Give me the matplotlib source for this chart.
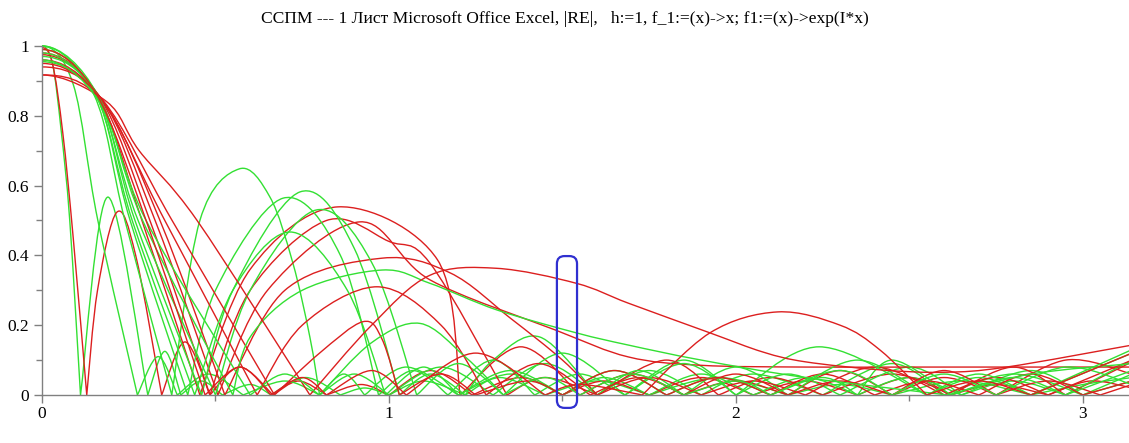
import numpy as np
import matplotlib.pyplot as plt
from matplotlib.path import Path
from matplotlib.patches import PathPatch, FancyBboxPatch

# pontos (x, |RE|): zeros, picos e alguns pontos intermediários
g1 = [(0, 1.0), (0.03, 0.95), (0.055, 0.76), (0.08, 0.5), (0.111, 0), (0.19, 0.567), (0.305, 0),
      (0.354, 0.125), (0.40, 0), (0.46, 0.04), (0.52, 0), (0.6, 0.03), (0.66, 0), (0.76, 0.05),
      (0.86, 0), (0.93, 0.02), (1.0, 0), (1.1, 0.04), (1.22, 0), (1.32, 0.05), (1.45, 0),
      (1.6, 0.04), (1.75, 0), (1.95, 0.05), (2.15, 0), (2.3, 0.03), (2.45, 0), (2.65, 0.04),
      (2.85, 0), (3.0, 0.03), (3.1416, 0.05)]
g2 = [(0, 1.0), (0.09, 0.89), (0.161, 0.5), (0.275, 0), (0.335, 0.11), (0.39, 0), (0.48, 0.06),
      (0.58, 0), (0.7, 0.04), (0.8, 0), (0.9, 0.06), (1.0, 0), (1.15, 0.08), (1.3, 0), (1.45, 0.09),
      (1.6, 0), (1.75, 0.07), (1.9, 0), (2.05, 0.06), (2.25, 0), (2.45, 0.09), (2.6, 0), (2.8, 0.06),
      (3.0, 0), (3.1416, 0.06)]
g3 = [(0, 1.0), (0.15, 0.86), (0.239, 0.5), (0.374, 0), (0.455, 0.5), (0.569, 0.648), (0.657, 0.567),
      (0.723, 0.378), (0.772, 0.166), (0.80, 0), (0.87, 0.06), (0.93, 0), (1.05, 0.08), (1.2, 0),
      (1.35, 0.06), (1.5, 0), (1.62, 0.05), (1.75, 0), (1.9, 0.06), (2.05, 0), (2.2, 0.05), (2.35, 0),
      (2.5, 0.05), (2.65, 0), (2.85, 0.07), (3.0, 0), (3.1416, 0.04)]
g4 = [(0, 0.97), (0.155, 0.86), (0.254, 0.5), (0.42, 0), (0.5, 0.3), (0.695, 0.564), (0.86, 0.4),
      (0.97, 0), (1.07, 0.07), (1.17, 0), (1.3, 0.1), (1.42, 0), (1.55, 0.06), (1.68, 0), (1.85, 0.1),
      (2.0, 0), (2.15, 0.06), (2.3, 0), (2.5, 0.08), (2.65, 0), (2.8, 0.04), (2.95, 0), (3.1416, 0.1)]
g5 = [(0, 1.0), (0.16, 0.86), (0.268, 0.5), (0.46, 0), (0.55, 0.3), (0.744, 0.582), (0.9, 0.42),
      (1.03, 0), (1.12, 0.06), (1.22, 0), (1.3, 0.1), (1.435, 0.166), (1.6, 0), (1.72, 0.07),
      (1.85, 0), (2.0, 0.08), (2.15, 0), (2.35, 0.1), (2.55, 0), (2.7, 0.05), (2.85, 0), (3.1416, 0.12)]
g6 = [(0, 0.955), (0.16, 0.85), (0.277, 0.5), (0.5, 0), (0.6, 0.3), (0.79, 0.53), (0.95, 0.38),
      (1.08, 0), (1.2, 0.09), (1.33, 0), (1.5, 0.12), (1.68, 0), (1.85, 0.09), (2.0, 0), (2.24, 0.138),
      (2.55, 0), (2.7, 0.06), (2.85, 0), (3.1416, 0.13)]
g7 = [(0, 0.99), (0.155, 0.86), (0.26, 0.5), (0.44, 0), (0.55, 0.3), (0.715, 0.467), (0.88, 0.3),
      (0.99, 0), (1.1, 0.08), (1.2, 0), (1.35, 0.07), (1.5, 0), (1.65, 0.07), (1.8, 0), (1.95, 0.05),
      (2.1, 0), (2.25, 0.05), (2.35, 0), (2.45, 0.1), (2.62, 0), (2.8, 0.05), (2.95, 0), (3.1416, 0.07)]
g8 = [(0, 0.98), (0.165, 0.85), (0.29, 0.5), (0.55, 0), (0.6, 0.166), (0.75, 0.3), (0.98, 0.358),
      (1.118, 0.32), (1.31, 0.244), (1.54, 0.178), (1.69, 0.143), (1.9, 0.1), (2.2, 0.05), (2.61, 0),
      (2.85, 0.06), (3.1416, 0.09)]
g9 = [(0, 0.96), (0.165, 0.84), (0.3, 0.5), (0.6, 0), (0.7, 0.06), (0.8, 0), (0.95, 0.15),
      (1.09, 0.205), (1.22, 0.109), (1.33, 0), (1.45, 0.05), (1.55, 0), (1.7, 0.06), (1.85, 0),
      (2.0, 0.04), (2.1, 0), (2.3, 0.07), (2.45, 0), (2.6, 0.06), (2.75, 0), (2.95, 0.08), (3.1416, 0.03)]

r1 = [(0, 0.995), (0.03, 0.95), (0.06, 0.75), (0.09, 0.45), (0.129, 0), (0.16, 0.3), (0.216, 0.524),
      (0.27, 0.4), (0.345, 0), (0.412, 0.152), (0.484, 0), (0.57, 0.08), (0.666, 0), (0.74, 0.04),
      (0.82, 0), (0.92, 0.03), (1.0, 0), (1.12, 0.07), (1.24, 0), (1.38, 0.05), (1.5, 0), (1.62, 0.04),
      (1.75, 0), (1.9, 0.05), (2.05, 0), (2.2, 0.04), (2.35, 0), (2.5, 0.05), (2.62, 0), (2.75, 0.03),
      (2.9, 0), (3.02, 0.04), (3.1416, 0.02)]
r2 = [(0, 0.98), (0.16, 0.86), (0.288, 0.5), (0.455, 0), (0.6, 0.36), (0.853, 0.539),
      (1.14, 0.387), (1.205, 0), (1.38, 0.138), (1.55, 0), (1.7, 0.06), (1.85, 0), (2.0, 0.04),
      (2.15, 0), (2.3, 0.07), (2.45, 0), (2.6, 0.05), (2.75, 0), (2.95, 0.1), (3.1416, 0.06)]
r3 = [(0, 0.975), (0.165, 0.855), (0.311, 0.5), (0.484, 0), (0.6, 0.3), (0.82, 0.50), (1.0, 0.44),
      (1.118, 0.378), (1.34, 0), (1.45, 0.05), (1.6, 0), (1.8, 0.1), (1.95, 0), (2.1, 0.05), (2.25, 0),
      (2.45, 0.06), (2.62, 0), (2.8, 0.08), (2.95, 0), (3.1416, 0.095)]
r4 = [(0, 0.94), (0.17, 0.85), (0.326, 0.5), (0.507, 0), (0.65, 0.3), (0.916, 0.496), (1.118, 0.33),
      (1.48, 0.186), (1.69, 0.109), (1.9, 0.085), (2.2, 0.08), (2.5, 0.08), (2.8, 0.08), (3.1416, 0.08)]
r5 = [(0, 0.917), (0.175, 0.84), (0.34, 0.5), (0.527, 0), (0.7, 0.3), (0.98, 0.392), (1.176, 0.35),
      (1.35, 0.22), (1.5, 0.1), (1.6, 0), (1.75, 0.05), (1.9, 0), (2.05, 0.04), (2.2, 0), (2.4, 0.08),
      (2.6, 0), (2.75, 0.05), (2.9, 0), (3.1416, 0.1)]
r6 = [(0, 0.96), (0.17, 0.85), (0.354, 0.5), (0.62, 0), (0.75, 0.2), (0.965, 0.31), (1.15, 0.2),
      (1.28, 0), (1.43, 0.09), (1.58, 0), (1.72, 0.05), (1.85, 0), (2.0, 0.06), (2.15, 0), (2.3, 0.04),
      (2.45, 0), (2.6, 0.07), (2.75, 0), (2.9, 0.04), (3.05, 0), (3.1416, 0.03)]
r7 = [(0, 0.95), (0.175, 0.845), (0.375, 0.5), (0.67, 0), (0.8, 0.12), (0.925, 0.21), (0.98, 0.16),
      (1.03, 0), (1.15, 0.06), (1.25, 0), (1.4, 0.04), (1.5, 0), (1.65, 0.07), (1.8, 0), (1.95, 0.05),
      (2.1, 0), (2.25, 0.06), (2.4, 0), (2.55, 0.04), (2.7, 0), (2.85, 0.06), (3.0, 0), (3.1416, 0.04)]
r8 = [(0, 0.917), (0.187, 0.84), (0.28, 0.70), (0.447, 0.5), (0.772, 0), (0.95, 0.2), (1.118, 0.343),
      (1.31, 0.363), (1.54, 0.32), (1.69, 0.263), (1.925, 0.178), (2.078, 0.123), (2.2, 0.095),
      (2.415, 0.072), (2.6, 0.065), (2.78, 0.08), (3.1416, 0.143)]
r9 = [(0, 0.99), (0.155, 0.865), (0.3, 0.5), (0.47, 0), (0.57, 0.08), (0.66, 0), (0.75, 0.05),
      (0.82, 0), (0.95, 0.07), (1.05, 0), (1.25, 0.12), (1.45, 0), (1.55, 0.03), (1.73, 0),
      (1.925, 0.178), (2.12, 0.238), (2.3, 0.2), (2.415, 0.129), (2.55, 0), (2.7, 0.04), (2.85, 0),
      (3.1416, 0.12)]

verdes = [g1, g2, g3, g4, g5, g6, g7, g8, g9]
vermelhas = [r1, r2, r3, r4, r5, r6, r7, r8, r9]

titulo = "ССПМ --- 1 Лист Microsoft Office Excel, |RE|,   h:=1, f_1:=(x)->x; f1:=(x)->exp(I*x)"

# destaque azul (x de 1.484 a 1.542)
caixa_x = (1.484, 1.542)
caixa_y = (-0.037, 0.398)


def curva_suave(pontos):
    # spline de Catmull-Rom entre os pontos, com bico nos zeros (|RE|)
    pts = np.asarray(pontos, dtype=float)
    cortes = [i for i in range(len(pts)) if pts[i, 1] == 0]
    limites = sorted(set([0] + cortes + [len(pts) - 1]))
    verts, codes = [pts[0]], [Path.MOVETO]
    for a, b in zip(limites[:-1], limites[1:]):
        seg = pts[a:b + 1]
        n = len(seg)
        if seg[0, 0] == 0 and seg[0, 1] > 0:
            ini = np.array([-seg[1, 0], seg[1, 1]])
        else:
            ini = seg[0]
        ext = np.vstack([ini, seg, seg[-1]])
        for i in range(1, n):
            p0, p1, p2, p3 = ext[i - 1], ext[i], ext[i + 1], ext[i + 2]
            verts += [p1 + (p2 - p0) / 6, p2 - (p3 - p1) / 6, p2]
            codes += [Path.CURVE4] * 3
    return Path(verts, codes)


fig = plt.figure(figsize=(11.29, 4.43), dpi=100)
ax = fig.add_axes([0.0372, 0.1084, 0.9655, 0.7878])

for gv, rv in zip(verdes, vermelhas):
    ax.add_patch(PathPatch(curva_suave(gv), fill=False, ec="#33e033", lw=1.0, clip_on=False))
    ax.add_patch(PathPatch(curva_suave(rv), fill=False, ec="#dc1f1f", lw=1.0, clip_on=False))

ax.add_patch(FancyBboxPatch((caixa_x[0], caixa_y[0]), caixa_x[1] - caixa_x[0], caixa_y[1] - caixa_y[0],
                            boxstyle="round,pad=0,rounding_size=0.022", fc="none", ec="#3030d0",
                            lw=1.6, clip_on=False, zorder=5))

ax.set_xlim(0, np.pi)
ax.set_ylim(0, 1)
for lado in ["top", "right"]:
    ax.spines[lado].set_visible(False)
for lado in ["left", "bottom"]:
    ax.spines[lado].set_color("#808080")
    ax.spines[lado].set_linewidth(1.0)

ax.set_xticks([0, 1, 2, 3])
ax.set_xticks([0.5, 1.5, 2.5], minor=True)
ax.set_yticks([0, 0.2, 0.4, 0.6, 0.8, 1])
ax.set_yticklabels(["0", "0.2", "0.4", "0.6", "0.8", "1"])
ax.set_yticks([0.1, 0.3, 0.5, 0.7, 0.9], minor=True)
ax.tick_params(which="major", direction="out", length=6, width=1, color="#808080",
               labelsize=12.5, labelcolor="black")
ax.tick_params(axis="x", which="major", pad=2)
ax.tick_params(which="minor", direction="out", length=4, width=1, color="#808080")
for lab in ax.get_xticklabels() + ax.get_yticklabels():
    lab.set_family("Liberation Serif")

fig.text(0.5, 0.958, titulo, ha="center", va="center", fontsize=12.6, family="Liberation Serif")

plt.savefig("out.png", dpi=100)
